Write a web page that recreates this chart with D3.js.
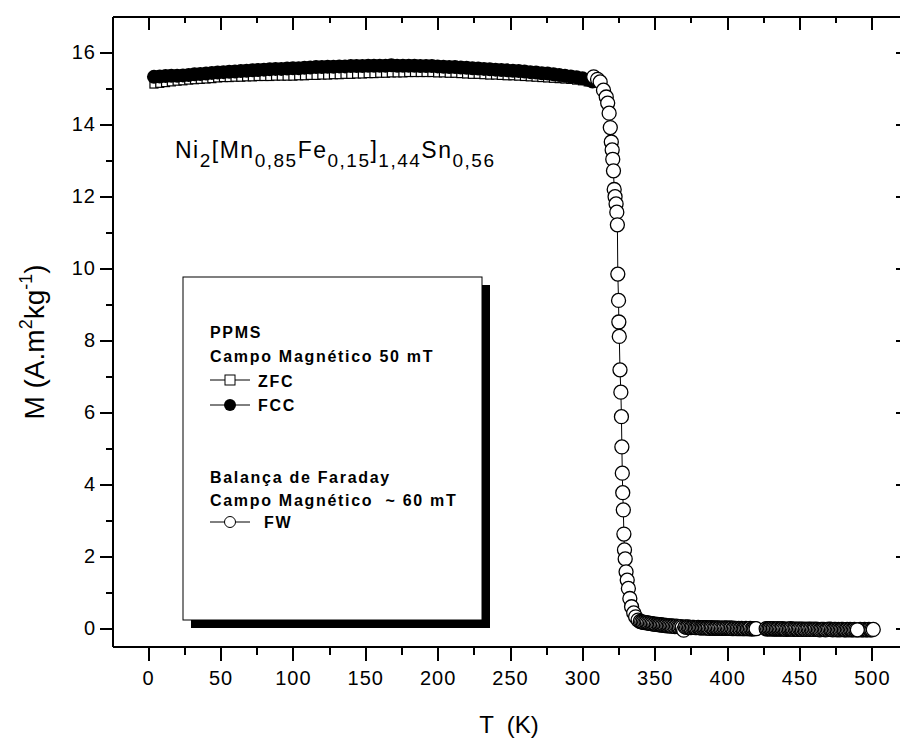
<!DOCTYPE html>
<html lang="pt">
<head>
  <meta charset="UTF-8">
  <script type="text/javascript" src="https://cdnjs.cloudflare.com/ajax/libs/d3/7.8.5/d3.min.js"></script>
  <title>M x T</title>
  <style type="text/css">
    * {
      margin: 0;
      padding: 0;
    }

    html, body {
      width: 100%;
      height: 100%;
      background-color: #fff;
      overflow: hidden;
    }

    svg text {
      font-family: "Liberation Sans", Arial, sans-serif;
      fill: #000;
    }
  </style>
</head>

<body>
<div id="box"></div>
</body>
<script type="text/javascript">
  // dados
  // ZFC (PPMS, 50 mT)
  var zfcT = [4, 8, 12, 16, 20, 24, 28, 32, 36, 40, 44, 48, 52, 56, 60, 64, 68, 72, 76, 80,
    84, 88, 92, 96, 100, 104, 108, 112, 116, 120, 124, 128, 132, 136, 140, 144, 148, 152, 156, 160,
    164, 168, 172, 176, 180, 184, 188, 192, 196, 200, 204, 208, 212, 216, 220, 224, 228, 232, 236, 240,
    244, 248, 252, 256, 260, 264, 268, 272, 276, 280, 284, 288, 292, 296, 300, 304]
  var zfcM = [15.11, 15.13, 15.15, 15.17, 15.19, 15.20, 15.22, 15.23, 15.24, 15.25, 15.26, 15.28, 15.29, 15.29, 15.30, 15.30, 15.31, 15.31, 15.32, 15.32,
    15.32, 15.33, 15.33, 15.33, 15.33, 15.34, 15.34, 15.35, 15.35, 15.36, 15.36, 15.37, 15.37, 15.38, 15.38, 15.39, 15.39, 15.40, 15.40, 15.41,
    15.41, 15.42, 15.42, 15.42, 15.43, 15.43, 15.43, 15.43, 15.43, 15.42, 15.42, 15.41, 15.41, 15.40, 15.39, 15.38, 15.38, 15.37, 15.36, 15.36,
    15.35, 15.34, 15.34, 15.33, 15.32, 15.31, 15.30, 15.29, 15.28, 15.27, 15.26, 15.25, 15.24, 15.22, 15.20, 15.17]

  // FCC (PPMS, 50 mT)
  var fccT = [4, 8, 12, 16, 20, 24, 28, 32, 36, 40, 44, 48, 52, 56, 60, 64, 68, 72, 76, 80,
    84, 88, 92, 96, 100, 104, 108, 112, 116, 120, 124, 128, 132, 136, 140, 144, 148, 152, 156, 160,
    164, 168, 172, 176, 180, 184, 188, 192, 196, 200, 204, 208, 212, 216, 220, 224, 228, 232, 236, 240,
    244, 248, 252, 256, 260, 264, 268, 272, 276, 280, 284, 288, 292, 296, 300, 304, 307]
  var fccM = [15.31, 15.32, 15.33, 15.34, 15.34, 15.35, 15.36, 15.38, 15.39, 15.40, 15.42, 15.43, 15.44, 15.45, 15.46, 15.47, 15.48, 15.49, 15.50, 15.51,
    15.52, 15.53, 15.53, 15.54, 15.55, 15.55, 15.56, 15.57, 15.58, 15.58, 15.59, 15.59, 15.60, 15.60, 15.61, 15.61, 15.61, 15.62, 15.62, 15.62,
    15.62, 15.63, 15.62, 15.62, 15.62, 15.62, 15.61, 15.61, 15.61, 15.60, 15.59, 15.58, 15.58, 15.57, 15.56, 15.55, 15.54, 15.53, 15.52, 15.51,
    15.50, 15.49, 15.48, 15.47, 15.46, 15.44, 15.43, 15.41, 15.40, 15.38, 15.36, 15.34, 15.32, 15.30, 15.27, 15.23, 15.18]

  // FW (Balança de Faraday, ~60 mT)
  var fwT = [307.8, 310.5, 312.3, 314.6, 316.5, 317.5, 318.5, 319.3, 320.0, 320.6, 321.0, 321.5, 322.0, 322.6, 323.3, 323.8, 324.2,
    324.5, 325.0, 325.2, 325.5, 326.0, 326.6, 327.0, 327.3, 327.6, 327.9, 328.3, 328.7, 329.1, 329.6, 330.2, 331.0, 331.8, 332.8,
    334.0, 335.5, 336.8, 338.5, 340.0,
    341, 342, 343, 344, 345, 346, 347, 348, 349, 350, 351, 352, 353, 354, 355, 356, 357, 358, 359, 360,
    361, 362, 363, 364, 365, 366, 367, 368, 369, 370, 371, 372, 373, 374, 375, 376, 377, 378, 379, 380,
    381, 382, 383, 384, 385, 386, 387, 388, 389, 390, 391, 392, 393, 394, 395, 396, 397, 398, 399, 400,
    401, 402, 403, 404, 405, 406, 407, 408, 409, 410, 411, 412, 413, 414, 415, 416, 417, 418, 419, 420,
    427, 428, 429, 430, 431, 432, 433, 434, 435, 436, 437, 438, 439, 440, 441, 442, 443, 444, 445, 446,
    447, 448, 449, 450, 451, 452, 453, 454, 455, 456, 457, 458, 459, 460, 461, 462, 463, 464, 465, 466,
    467, 468, 469, 470, 471, 472, 473, 474, 475, 476, 477, 478, 479, 480, 481, 482, 483, 484, 485, 486,
    487, 488, 489, 491, 492, 493, 494, 495, 496, 497, 498, 499, 500, 501, 490]
  var fwM = [15.31, 15.24, 15.17, 14.94, 14.75, 14.58, 14.30, 13.90, 13.50, 13.28, 13.02, 12.70, 12.18, 11.98, 11.78, 11.55, 11.20,
    9.83, 9.10, 8.50, 8.10, 7.17, 6.55, 5.87, 5.03, 4.30, 3.76, 3.28, 2.61, 2.17, 1.92, 1.56, 1.33, 1.10, 0.82,
    0.59, 0.42, 0.31, 0.22, 0.18,
    0.17, 0.16, 0.15, 0.15, 0.14, 0.13, 0.13, 0.12, 0.11, 0.11, 0.10, 0.10, 0.09, 0.09, 0.08, 0.08, 0.07, 0.07, 0.06, 0.06,
    0.06, 0.05, 0.05, 0.04, 0.05, 0.04, 0.03, 0.04, 0.02, -0.06, 0.03, 0.02, 0.03, 0.02, 0.01, 0.02, 0.02, 0.01, 0.01, 0.02,
    0.01, 0.00, 0.01, 0.01, 0.00, 0.01, 0.00, -0.01, 0.01, 0.00, -0.01, 0.00, 0.00, -0.01, 0.00, -0.01, -0.01, 0.00, -0.01, 0.00,
    -0.01, -0.01, 0.00, -0.02, -0.01, -0.01, -0.02, -0.01, -0.02, -0.01, -0.02, -0.02, -0.01, -0.02, -0.02, -0.01, -0.03, -0.02, -0.02, -0.02,
    -0.02, -0.03, -0.02, -0.02, -0.03, -0.02, -0.03, -0.03, -0.02, -0.03, -0.03, -0.02, -0.03, -0.03, -0.04, -0.03, -0.03, -0.02, -0.03, -0.04,
    -0.03, -0.03, -0.04, -0.03, -0.03, -0.04, -0.03, -0.04, -0.04, -0.03, -0.04, -0.03, -0.04, -0.04, -0.03, -0.04, -0.04, -0.05, -0.04, -0.04,
    -0.04, -0.05, -0.04, -0.04, -0.03, -0.04, -0.05, -0.04, -0.04, -0.05, -0.04, -0.05, -0.04, -0.04, -0.05, -0.05, -0.04, -0.05, -0.04, -0.05,
    -0.05, -0.04, -0.05, -0.05, -0.04, -0.05, -0.05, -0.04, -0.05, -0.05, -0.04, -0.05, -0.05, -0.04, -0.05]

  // ticks
  var xTicks = [0, 50, 100, 150, 200, 250, 300, 350, 400, 450, 500]
  var xMinor = [25, 75, 125, 175, 225, 275, 325, 375, 425, 475]
  var yTicks = [0, 2, 4, 6, 8, 10, 12, 14, 16]
  var yMinor = [1, 3, 5, 7, 9, 11, 13, 15]

  // legenda
  var legendHead1 = ["PPMS", "Campo Magnético 50 mT"]
  var legendHead2 = ["Balança de Faraday", "Campo Magnético  ~ 60 mT"]

  // canvas
  var width = 900
  var height = 740
  var svg = d3.select('#box')
    .append('svg')
    .attr('width', width)
    .attr('height', height)

  // área do gráfico (o lado direito passa da janela)
  var pLeft = 112, pRight = 908, pTop = 16, pBottom = 646

  var x = d3.scaleLinear().domain([-25, 525]).range([pLeft, pRight])
  var y = d3.scaleLinear().domain([-0.5, 17]).range([pBottom, pTop])

  // eixos
  function styleAxis(g) {
    g.select('.domain').attr('stroke-width', 2)
    g.selectAll('.tick line').attr('stroke-width', 2)
    g.selectAll('.tick text')
      .style('font-size', '20px')
      .style('letter-spacing', '1px')
    g.attr('shape-rendering', 'crispEdges')
  }

  svg.append('g').attr('transform', 'translate(0,' + pBottom + ')')
    .call(d3.axisBottom(x).tickValues(xMinor).tickSize(9).tickSizeOuter(0).tickFormat(''))
    .call(styleAxis)
  svg.append('g').attr('transform', 'translate(0,' + pBottom + ')')
    .call(d3.axisBottom(x).tickValues(xTicks).tickSize(15).tickSizeOuter(0).tickPadding(10))
    .call(styleAxis)

  svg.append('g').attr('transform', 'translate(0,' + pTop + ')')
    .call(d3.axisTop(x).tickValues(xMinor).tickSize(-7).tickSizeOuter(0).tickFormat(''))
    .call(styleAxis)
  svg.append('g').attr('transform', 'translate(0,' + pTop + ')')
    .call(d3.axisTop(x).tickValues(xTicks).tickSize(-14).tickSizeOuter(0).tickFormat(''))
    .call(styleAxis)

  svg.append('g').attr('transform', 'translate(' + pLeft + ',0)')
    .call(d3.axisLeft(y).tickValues(yMinor).tickSize(6).tickSizeOuter(0).tickFormat(''))
    .call(styleAxis)
  svg.append('g').attr('transform', 'translate(' + pLeft + ',0)')
    .call(d3.axisLeft(y).tickValues(yTicks).tickSize(12).tickSizeOuter(0).tickPadding(4))
    .call(styleAxis)

  svg.append('g').attr('transform', 'translate(' + pRight + ',0)')
    .call(d3.axisRight(y).tickValues(yMinor).tickSize(-6).tickSizeOuter(0).tickFormat(''))
    .call(styleAxis)
  svg.append('g').attr('transform', 'translate(' + pRight + ',0)')
    .call(d3.axisRight(y).tickValues(yTicks).tickSize(-12).tickSizeOuter(0).tickFormat(''))
    .call(styleAxis)

  // títulos dos eixos
  svg.append('text')
    .attr('x', 509)
    .attr('y', 733)
    .attr('text-anchor', 'middle')
    .style('font-size', '24px')
    .style('white-space', 'pre')
    .text('T  (K)')

  var yLabel = svg.append('text')
    .attr('transform', 'translate(44,342) rotate(-90)')
    .attr('text-anchor', 'middle')
    .style('font-size', '28px')
  yLabel.append('tspan').text('M (A.m')
  yLabel.append('tspan').attr('dy', -12).style('font-size', '18px').text('2')
  yLabel.append('tspan').attr('dy', 12).text('kg')
  yLabel.append('tspan').attr('dy', -12).style('font-size', '18px').text('-1')
  yLabel.append('tspan').attr('dy', 12).text(')')

  // fórmula
  var formula = [
    ['Ni', 0], ['2', 1], ['[Mn', 0], ['0,85', 1], ['Fe', 0], ['0,15', 1],
    [']', 0], ['1,44', 1], ['Sn', 0], ['0,56', 1]
  ]
  var ft = svg.append('text')
    .attr('x', 175)
    .attr('y', 158)
    .style('font-size', '22px')
    .style('letter-spacing', '1.5px')
  var shift = 0
  formula.forEach(function (p) {
    var s = p[1] ? 9 : 0
    ft.append('tspan')
      .attr('dy', s - shift)
      .style('font-size', p[1] ? '19px' : '23px')
      .text(p[0])
    shift = s
  })

  // legenda (sombra + caixa)
  var lg = svg.append('g')
  lg.append('rect')
    .attr('x', 191).attr('y', 285)
    .attr('width', 299).attr('height', 343)
    .attr('fill', '#000')
  lg.append('rect')
    .attr('x', 183).attr('y', 277)
    .attr('width', 299).attr('height', 343)
    .attr('fill', '#fff')
    .attr('stroke', '#000')
    .attr('stroke-width', 1)

  function legendText(t, yy, xx) {
    lg.append('text')
      .attr('x', xx || 210)
      .attr('y', yy)
      .style('font-size', '16px')
      .style('font-weight', 'bold')
      .style('letter-spacing', '1.7px')
      .style('white-space', 'pre')
      .text(t)
  }
  legendText(legendHead1[0], 338)
  legendText(legendHead1[1], 362)
  legendText(legendHead2[0], 483)
  legendText(legendHead2[1], 506)

  function legendLine(yy) {
    lg.append('line')
      .attr('x1', 210).attr('x2', 250)
      .attr('y1', yy).attr('y2', yy)
      .attr('stroke', '#000')
      .attr('stroke-width', 1)
  }
  legendLine(380)
  lg.append('rect')
    .attr('x', 225).attr('y', 375)
    .attr('width', 10).attr('height', 10)
    .attr('fill', '#fff').attr('stroke', '#000').attr('stroke-width', 1)
  legendText('ZFC', 387, 258)

  legendLine(405)
  lg.append('circle')
    .attr('cx', 230).attr('cy', 405).attr('r', 6)
    .attr('fill', '#000')
  legendText('FCC', 411, 258)

  legendLine(522)
  lg.append('circle')
    .attr('cx', 230).attr('cy', 522).attr('r', 5.5)
    .attr('fill', '#fff').attr('stroke', '#000').attr('stroke-width', 1)
  legendText('FW', 528, 264)

  // séries
  var line = d3.line()
    .x(function (d) { return x(d[0]) })
    .y(function (d) { return y(d[1]) })

  var zfc = d3.zip(zfcT, zfcM)
  var fcc = d3.zip(fccT, fccM)
  var fw = d3.zip(fwT, fwM)

  svg.append('path').datum(zfc)
    .attr('d', line).attr('fill', 'none').attr('stroke', '#000').attr('stroke-width', 1)
  svg.selectAll('rect.zfc')
    .data(zfc)
    .enter()
    .append('rect')
    .attr('class', 'zfc')
    .attr('x', function (d) { return x(d[0]) - 4 })
    .attr('y', function (d) { return y(d[1]) - 4 })
    .attr('width', 8)
    .attr('height', 8)
    .attr('fill', '#fff')
    .attr('stroke', '#000')
    .attr('stroke-width', 1.2)

  svg.append('path').datum(fcc)
    .attr('d', line).attr('fill', 'none').attr('stroke', '#000').attr('stroke-width', 1)
  svg.selectAll('circle.fcc')
    .data(fcc)
    .enter()
    .append('circle')
    .attr('class', 'fcc')
    .attr('cx', function (d) { return x(d[0]) })
    .attr('cy', function (d) { return y(d[1]) })
    .attr('r', 7)
    .attr('fill', '#000')

  svg.append('path').datum(fw)
    .attr('d', line).attr('fill', 'none').attr('stroke', '#000').attr('stroke-width', 1)
  svg.selectAll('circle.fw')
    .data(fw)
    .enter()
    .append('circle')
    .attr('class', 'fw')
    .attr('cx', function (d) { return x(d[0]) })
    .attr('cy', function (d) { return y(d[1]) })
    .attr('r', 7)
    .attr('fill', '#fff')
    .attr('stroke', '#000')
    .attr('stroke-width', 1.3)
</script>
</html>
